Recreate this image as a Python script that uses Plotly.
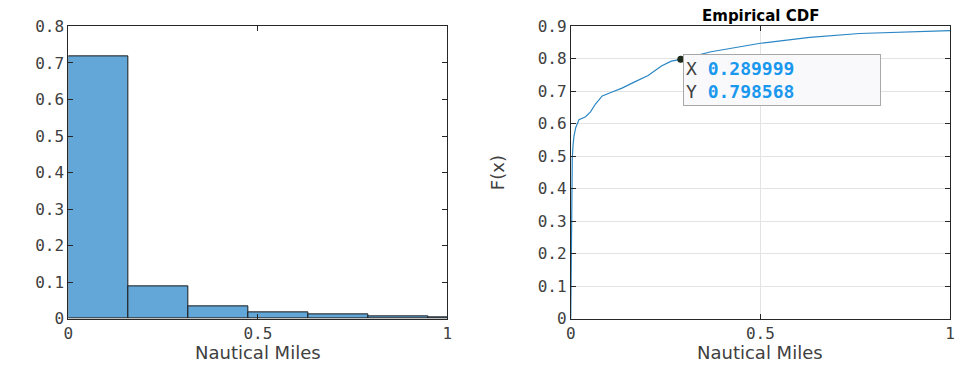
import plotly.graph_objects as go

# ---- data ----
bin_edges = [0.0, 0.158, 0.317, 0.475, 0.633, 0.792, 0.950, 1.108]
bin_heights = [0.719, 0.090, 0.033, 0.018, 0.011, 0.006, 0.003]

cdf_x = [0.0, 0.0008, 0.0017, 0.003, 0.004, 0.006, 0.0087, 0.013, 0.0217, 0.039, 0.052,
         0.065, 0.083, 0.109, 0.135, 0.17, 0.204, 0.239, 0.265, 0.289999, 0.37, 0.5,
         0.63, 0.761, 0.891, 1.0]
cdf_y = [0.0, 0.12, 0.27, 0.40, 0.495, 0.535, 0.564, 0.588, 0.613, 0.622, 0.637,
         0.661, 0.686, 0.698, 0.71, 0.73, 0.749, 0.778, 0.793, 0.798568, 0.822, 0.848,
         0.866, 0.878, 0.883, 0.887]

tip_x = 0.289999
tip_y = 0.798568

left_xticks = [0, 0.5, 1]
left_yticks = [0, 0.1, 0.2, 0.3, 0.4, 0.5, 0.6, 0.7, 0.8]
right_yticks = [0, 0.1, 0.2, 0.3, 0.4, 0.5, 0.6, 0.7, 0.8, 0.9]

# ---- figure ----
W, H = 964, 375
centers = [(bin_edges[i] + bin_edges[i + 1]) / 2 for i in range(len(bin_heights))]
widths = [bin_edges[i + 1] - bin_edges[i] for i in range(len(bin_heights))]

fig = go.Figure()
fig.add_trace(go.Bar(x=centers, y=bin_heights, width=widths,
                     marker=dict(color="#62a7d8", line=dict(color="#1a1a1a", width=1)),
                     xaxis="x", yaxis="y", showlegend=False))
fig.add_trace(go.Scatter(x=cdf_x, y=cdf_y, mode="lines", line=dict(color="#2a86c4", width=1.2),
                         xaxis="x2", yaxis="y2", showlegend=False))
fig.add_trace(go.Scatter(x=[tip_x], y=[tip_y], mode="markers",
                         marker=dict(color="#1c2a1c", size=7),
                         xaxis="x2", yaxis="y2", showlegend=False))

tickfont = dict(family="DejaVu Sans Mono", size=16, color="#404040")
axcommon = dict(showline=True, linecolor="#262626", linewidth=1, mirror="ticks",
                ticks="inside", ticklen=5, tickcolor="#262626", tickfont=tickfont,
                zeroline=False)

ydom = [48.7 / H, 356.7 / H]
fig.update_layout(
    width=W, height=H,
    margin=dict(l=0, r=0, t=0, b=0),
    paper_bgcolor="white", plot_bgcolor="white",
    bargap=0,
    xaxis=dict(domain=[64 / W, 447 / W], range=[0, 1], tickvals=left_xticks,
               ticktext=[str(v) for v in left_xticks], showgrid=False, anchor="y", **axcommon),
    yaxis=dict(domain=ydom, range=[0, 0.8], tickvals=left_yticks,
               ticktext=["0"] + [f"{v:.1f}" for v in left_yticks[1:]],
               showgrid=False, anchor="x", **axcommon),
    xaxis2=dict(domain=[571.7 / W, 955 / W], range=[0, 1], tickvals=left_xticks,
                ticktext=[str(v) for v in left_xticks], showgrid=True, gridcolor="#e3e3e3",
                anchor="y2", **axcommon),
    yaxis2=dict(domain=ydom, range=[0, 0.9], tickvals=right_yticks,
                ticktext=["0"] + [f"{v:.1f}" for v in right_yticks[1:]],
                showgrid=True, gridcolor="#e3e3e3", anchor="x2", **axcommon),
)

labfont = dict(family="DejaVu Sans", size=18, color="#404040")
annotations = [
    dict(text="Nautical Miles", x=255.5 / W, y=1 - 362 / H, xref="paper", yref="paper",
         xanchor="center", yanchor="middle", showarrow=False, font=labfont),
    dict(text="Nautical Miles", x=763 / W, y=1 - 362 / H, xref="paper", yref="paper",
         xanchor="center", yanchor="middle", showarrow=False, font=labfont),
    dict(text="F(x)", x=497 / W, y=1 - 172 / H, xref="paper", yref="paper", textangle=-90,
         xanchor="center", yanchor="middle", showarrow=False, font=labfont),
    dict(text="<b>Empirical CDF</b>", x=763 / W, y=1, xref="paper", yref="paper",
         xanchor="center", yanchor="top", yshift=3, borderpad=0, showarrow=False,
         font=dict(family="DejaVu Sans", size=15, color="#000000")),
    dict(text="<span style='color:#404040'>X</span> <b>0.289999</b><br>"
              "<span style='color:#404040'>Y</span> <b>0.798568</b>",
         x=tip_x, y=tip_y, xref="x2", yref="y2", xanchor="left", yanchor="top",
         xshift=2, yshift=5, showarrow=False, align="left",
         width=192, height=46, bgcolor="#f9f9fb", bordercolor="#a8a8a8", borderwidth=1,
         borderpad=2,
         font=dict(family="DejaVu Sans Mono", size=18, color="#1a98ee")),
]
fig.update_layout(annotations=annotations)

fig.write_html("out.html")
